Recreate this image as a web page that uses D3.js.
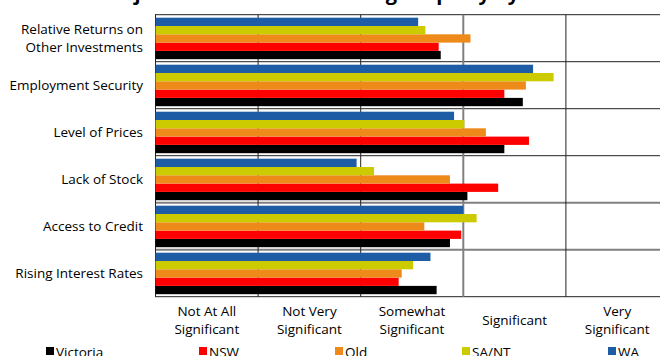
<!DOCTYPE html>
<html>
<head>
<meta charset="utf-8">
<script src="https://cdn.jsdelivr.net/npm/d3@7/dist/d3.min.js"></script>
<style>
  html, body { margin: 0; padding: 0; background: #fff; }
  svg { display: block; }
  text { font-family: "Open Sans", "Noto Sans", sans-serif; fill: #000; }
</style>
</head>
<body>
<svg id="chart" width="660" height="356"></svg>
<script>
// Constraints (rows, top to bottom)
const constraints = [
  ["Relative Returns on", "Other Investments"],
  ["Employment Security"],
  ["Level of Prices"],
  ["Lack of Stock"],
  ["Access to Credit"],
  ["Rising Interest Rates"]
];
const constraintKeys = constraints.map(d => d.join(" "));

// States, in legend order
const states = ["Victoria", "NSW", "Qld", "SA/NT", "WA"];
const stateColors = ["#000000", "#ff0000", "#ee8a1a", "#cbcb00", "#1f5ca6"];

// Average significance score per constraint (0 = left edge of scale)
const victoria = [2.78, 3.58, 3.40, 3.04, 2.87, 2.74];
const nsw      = [2.76, 3.40, 3.64, 3.34, 2.98, 2.37];
const qld      = [3.07, 3.61, 3.22, 2.87, 2.62, 2.40];
const sant     = [2.63, 3.88, 3.01, 2.13, 3.13, 2.51];
const wa       = [2.56, 3.68, 2.91, 1.96, 3.00, 2.68];
const seriesValues = [victoria, nsw, qld, sant, wa];

// Significance scale labels
const scaleLabels = [
  ["Not At All", "Significant"],
  ["Not Very", "Significant"],
  ["Somewhat", "Significant"],
  ["Significant"],
  ["Very", "Significant"]
];

const svg = d3.select("#chart");

const x = d3.scaleLinear().domain([0, 5]).range([155.5, 668.5]);
const y = d3.scaleBand().domain(constraintKeys).range([14.7, 296.7]).padding(0);
// bars inside each row: WA on top, Victoria at the bottom
const sub = d3.scaleBand().domain(states.slice().reverse()).range([3, y.bandwidth() - 2.5]).padding(0);

// Title
svg.append("text")
  .attr("x", 340).attr("y", 0)
  .attr("text-anchor", "middle")
  .style("font-weight", "bold")
  .style("font-size", "20px")
  .text("Major Constraints on Existing Property by State");

// Grid: horizontal row separators
const rowEdges = constraintKeys.map(k => y(k)).concat([y.range()[1]]);
const grayRows = new Set([4, 5]);
svg.append("g").selectAll("line")
  .data(rowEdges)
  .join("line")
  .attr("x1", 155).attr("x2", 660)
  .attr("y1", d => d).attr("y2", d => d)
  .attr("stroke", (d, i) => grayRows.has(i) ? "#808080" : "#222")
  .attr("stroke-width", (d, i) => grayRows.has(i) ? 2 : 1);

// Grid: vertical lines at each scale step
svg.append("g").selectAll("line")
  .data(d3.range(0, 5))
  .join("line")
  .attr("x1", d => x(d)).attr("x2", d => x(d))
  .attr("y1", y.range()[0]).attr("y2", y.range()[1])
  .attr("stroke", d => d === 3 ? "#808080" : "#222")
  .attr("stroke-width", d => d === 3 ? 2 : 1);

// Bars
const rows = svg.append("g").selectAll("g")
  .data(constraintKeys)
  .join("g")
  .attr("transform", k => `translate(0,${y(k)})`);

rows.selectAll("rect")
  .data((k, ci) => states.map((s, si) => ({ state: s, color: stateColors[si], value: seriesValues[si][ci] })))
  .join("rect")
  .attr("x", x(0))
  .attr("y", d => sub(d.state))
  .attr("height", sub.bandwidth())
  .attr("width", d => x(d.value) - x(0))
  .attr("fill", d => d.color);

// Row labels
const rowLabels = svg.append("g").selectAll("text")
  .data(constraints)
  .join("text")
  .attr("text-anchor", "end")
  .style("font-size", "13.5px")
  .attr("x", 143)
  .attr("y", (d, i) => y(constraintKeys[i]) + y.bandwidth() / 2);
rowLabels.selectAll("tspan")
  .data(d => d.map((t, j) => ({ t, j, n: d.length })))
  .join("tspan")
  .attr("x", 143)
  .attr("dy", d => d.j === 0 ? (-(d.n - 1) * 9 + 5) + "px" : "18px")
  .text(d => d.t);

// Scale labels below the plot
const scaleText = svg.append("g").selectAll("text")
  .data(scaleLabels)
  .join("text")
  .attr("text-anchor", "middle")
  .style("font-size", "13.5px")
  .attr("x", (d, i) => x(i + 0.5))
  .attr("y", 320);
scaleText.selectAll("tspan")
  .data(d => d.map((t, j) => ({ t, j, n: d.length })))
  .join("tspan")
  .attr("x", function() { return d3.select(this.parentNode).attr("x"); })
  .attr("dy", d => d.j === 0 ? (-(d.n - 1) * 9 + 5) + "px" : "18px")
  .text(d => d.t);

// Legend
const legendX = [46, 199, 335, 462, 608];
const legend = svg.append("g").selectAll("g")
  .data(states)
  .join("g")
  .attr("transform", (d, i) => `translate(${legendX[i]},347)`);
legend.append("rect")
  .attr("width", 8).attr("height", 8)
  .attr("fill", (d, i) => stateColors[i]);
legend.append("text")
  .attr("x", 10).attr("y", 10)
  .style("font-size", "13.5px")
  .text(d => d);
</script>
</body>
</html>
